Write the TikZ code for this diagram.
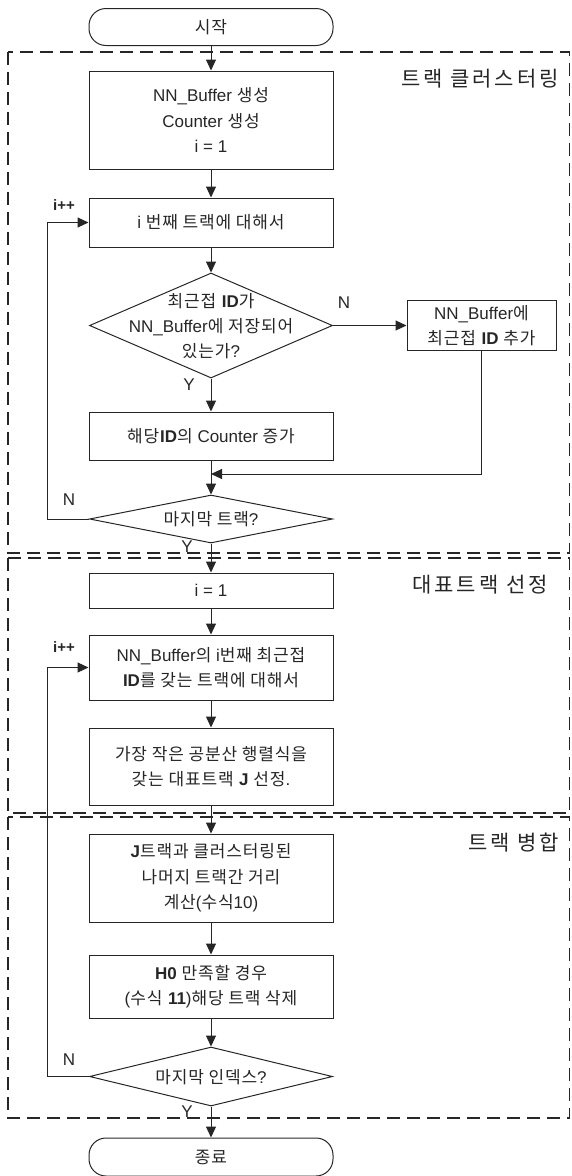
\documentclass[tikz,border=0pt]{standalone}
\usepackage{fontspec}
\setmainfont{Liberation Sans}
\newfontfamily\krf[LetterSpace=5]{Noto Sans CJK KR}
\newfontfamily\krtitle[LetterSpace=14]{Noto Sans CJK KR}
\newcommand\hg[1]{{\krf #1}}
\usetikzlibrary{arrows.meta,shapes.geometric}
\tikzset{
  base/.style={draw=black!85, line width=1pt, text=black!85, align=center,
    font=\fontsize{17}{25.5}\selectfont, inner sep=0pt},
  proc/.style={base, rectangle, minimum width=244pt},
  term/.style={base, rectangle, rounded corners=17pt, minimum width=244pt, minimum height=37pt},
  dec/.style={draw=black!85, line width=1pt, diamond, minimum width=243pt, inner sep=0pt},
  dtext/.style={align=center, text=black!85, font=\fontsize{17}{25}\selectfont, inner sep=0pt},
  arr/.style={draw=black!85, line width=1pt, -{Triangle[length=11pt,width=10pt]}},
  region/.style={draw=black!85, line width=1.3pt, dash pattern=on 13pt off 7pt},
  lbl/.style={font=\fontsize{17}{20}\selectfont, text=black!85, inner sep=0pt},
  ilbl/.style={font=\fontsize{15}{18}\selectfont\bfseries, text=black!85, inner sep=0pt},
  title/.style={font=\fontsize{21}{24}\krtitle, anchor=east, inner sep=0pt, text=black!85}
}
\begin{document}
\begin{tikzpicture}[x=1pt,y=-1pt]
\useasboundingbox (0,0) rectangle (571,1176);
% regions
\draw[region] (8,52) rectangle (569.5,553);
\draw[region] (8,558) rectangle (569.5,813);
\draw[region] (8,817) rectangle (569.5,1118);
\node[title] (t1) at (559,79) {트랙 클러스터링};
\node[title] (t2) at (548,585) {대표트랙 선정};
\node[title] (t3) at (559,843) {트랙 병합};
% nodes
\node[term] (start) at (211,27) {\hg{시작}};
\node[proc, minimum height=98pt] (box1) at (211,120) {NN\_Buffer \hg{생성}\\Counter \hg{생성}\\i = 1};
\node[proc, minimum height=49pt] (box2) at (211,222.5) {i \hg{번째 트랙에 대해서}};
\node[dec, minimum height=105pt] (dia1) at (211,325.5) {};
\node[dtext] (dia1t) at (211,326) {\hg{최근접} \textbf{ID}\hg{가}\\NN\_Buffer\hg{에 저장되어}\\\hg{있는가}?};
\node[base, rectangle, minimum width=149pt, minimum height=50pt] (boxR) at (481.5,325.5) {NN\_Buffer\hg{에}\\\hg{최근접} \textbf{ID} \hg{추가}};
\node[proc, minimum height=48pt] (box3) at (211,436) {\hg{해당}\textbf{ID}\hg{의} Counter \hg{증가}};
\node[dec, minimum height=48pt] (dia2) at (211,519) {};
\node[dtext] (dia2t) at (211,519) {\hg{마지막 트랙}?};
\node[proc, minimum height=35pt] (box4) at (211,590.5) {i = 1};
\node[proc, minimum height=65pt] (box5) at (211,667.5) {NN\_Buffer\hg{의} i\hg{번째 최근접}\\\textbf{ID}\hg{를 갖는 트랙에 대해서}};
\node[proc, minimum height=77pt] (box6) at (211,766.5) {\hg{가장 작은 공분산 행렬식을}\\\hg{갖는 대표트랙} \textbf{J} \hg{선정}.};
\node[proc, minimum height=88pt] (box7) at (211,878) {\textbf{J}\hg{트랙과 클러스터링된}\\\hg{나머지 트랙간 거리}\\\hg{계산}(\hg{수식}10)};
\node[proc, minimum height=63pt] (box8) at (211,986.5) {\textbf{H0} \hg{만족할 경우}\\(\hg{수식} \textbf{11})\hg{해당 트랙 삭제}};
\node[dec, minimum height=59pt] (dia3) at (211,1076.5) {};
\node[dtext] (dia3t) at (211,1077) {\hg{마지막 인덱스}?};
\node[term, minimum height=38pt] (end) at (211,1157) {\hg{종료}};
% coordinates
\coordinate (j1) at (211,474);
\coordinate (l1) at (47,519);
\coordinate (l2) at (47,1076.5);
% connectors
\draw[arr] (start) -- (box1);
\draw[arr] (box1) -- (box2);
\draw[arr] (box2) -- (dia1);
\draw[arr] (dia1.east) -- (boxR.west);
\draw[arr] (dia1.south) -- (box3.north);
\draw[arr] (box3) -- (dia2);
\draw[arr] (boxR.south) |- (j1);
\draw[arr] (dia2.west) -- (l1) |- (box2.west);
\draw[arr] (dia2.south) -- (box4.north);
\draw[arr] (box4) -- (box5);
\draw[arr] (box5) -- (box6);
\draw[arr] (box6) -- (box7);
\draw[arr] (box7) -- (box8);
\draw[arr] (box8) -- (dia3);
\draw[arr] (dia3.west) -- (l2) |- (box5.west);
\draw[arr] (dia3.south) -- (end.north);
% labels
\node[lbl] (n1) at (344,303) {N};
\node[lbl] (y1) at (189,385) {Y};
\node[lbl] (n2) at (69,500) {N};
\node[ilbl] (ip1) at (64,205) {i++};
\node[lbl] (y2) at (187,547) {Y};
\node[ilbl] (ip2) at (64,647) {i++};
\node[lbl] (n3) at (69,1060) {N};
\node[lbl] (y3) at (187,1112) {Y};
\end{tikzpicture}
\end{document}
